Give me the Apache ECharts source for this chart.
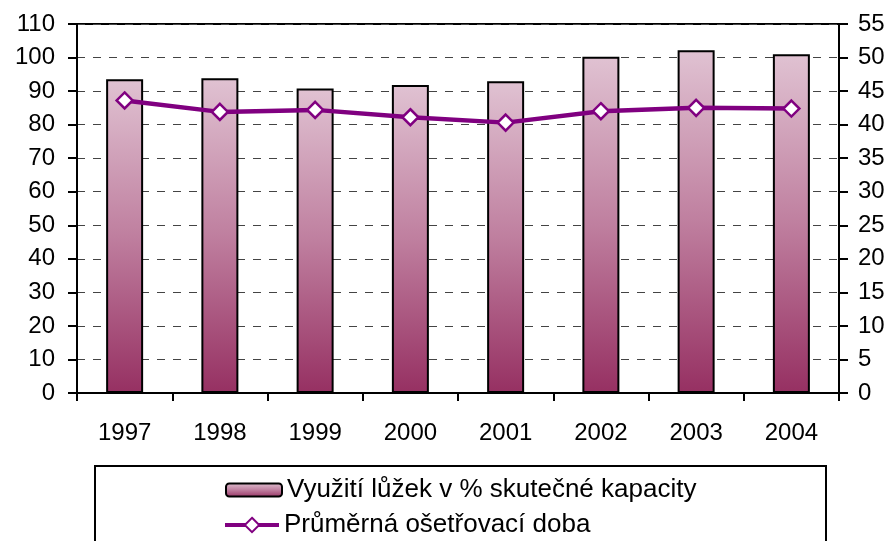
<!DOCTYPE html>
<html>
<head>
<meta charset="utf-8">
<script src="https://cdn.jsdelivr.net/npm/echarts@6/dist/echarts.min.js"></script>
<style>html,body{margin:0;padding:0;background:#fff}#c{width:891px;height:541px}</style>
</head>
<body>
<div id="c"></div>
<script>
var years = ['1997','1998','1999','2000','2001','2002','2003','2004'];
var occupancy = [93.5, 93.8, 90.8, 91.8, 92.9, 100.2, 102.2, 101.0];
var avgStay = [43.6, 41.9, 42.2, 41.1, 40.3, 42.0, 42.5, 42.4];
var barName = 'Využití lůžek v % skutečné kapacity';
var lineName = 'Průměrná ošetřovací doba';

var chart = echarts.init(document.getElementById('c'), null, {renderer: 'canvas'});
var font = 'Liberation Sans, Arial, sans-serif';
var grad = new echarts.graphic.LinearGradient(0, 0, 0, 1, [
  {offset: 0, color: '#e0c2d2'},
  {offset: 0.5, color: '#bf7f9f'},
  {offset: 1, color: '#963062'}
]);
chart.setOption({
  animation: false,
  grid: {left: 77, right: 52, top: 24, bottom: 148, show: true, borderColor: '#000', borderWidth: 2, backgroundColor: 'transparent'},
  graphic: [{
    type: 'rect', left: 94, top: 465, z: 0,
    shape: {width: 731, height: 100},
    style: {fill: '#fff', stroke: '#000', lineWidth: 2}
  }],
  legend: [{
    orient: 'vertical', left: 220, top: 472, itemWidth: 56, itemHeight: 13, itemGap: 6,
    textStyle: {fontFamily: font, fontSize: 26, color: '#000'},
    itemStyle: {borderColor: '#000', borderWidth: 2},
    data: [barName], z: 10
  }, {
    orient: 'vertical', left: 218, top: 507, itemWidth: 54, itemHeight: 18, itemGap: 6,
    textStyle: {fontFamily: font, fontSize: 26, color: '#000'},
    lineStyle: {width: 4},
    data: [lineName], z: 10
  }],
  xAxis: {
    type: 'category', data: years, boundaryGap: true,
    axisLine: {lineStyle: {color: '#000', width: 2}},
    axisTick: {show: true, length: 8, inside: false, lineStyle: {color: '#000', width: 2}, alignWithLabel: false},
    axisLabel: {fontFamily: font, fontSize: 24, color: '#000', margin: 28},
    splitLine: {show: false}
  },
  yAxis: [{
    type: 'value', min: 0, max: 110, interval: 10, position: 'left',
    axisLine: {show: true, lineStyle: {color: '#000', width: 2}},
    axisTick: {show: true, length: 9, lineStyle: {color: '#000', width: 2}},
    axisLabel: {fontFamily: font, fontSize: 24, color: '#000', margin: 22},
    splitLine: {show: true, lineStyle: {color: '#444', type: [8, 8], width: 1}}
  }, {
    type: 'value', min: 0, max: 55, interval: 5, position: 'right',
    axisLine: {show: true, lineStyle: {color: '#000', width: 2}},
    axisTick: {show: true, length: 9, lineStyle: {color: '#000', width: 2}},
    axisLabel: {fontFamily: font, fontSize: 24, color: '#000', margin: 19},
    splitLine: {show: false}
  }],
  series: [{
    name: barName, type: 'bar', data: occupancy, yAxisIndex: 0,
    barWidth: 37,
    itemStyle: {color: grad, borderColor: '#000', borderWidth: 2}
  }, {
    name: lineName, type: 'line', data: avgStay, yAxisIndex: 1,
    symbol: 'diamond', symbolSize: 16,
    lineStyle: {color: '#800080', width: 4.5},
    itemStyle: {color: '#fff', borderColor: '#800080', borderWidth: 2.5},
    z: 5
  }]
});
</script>
</body>
</html>
